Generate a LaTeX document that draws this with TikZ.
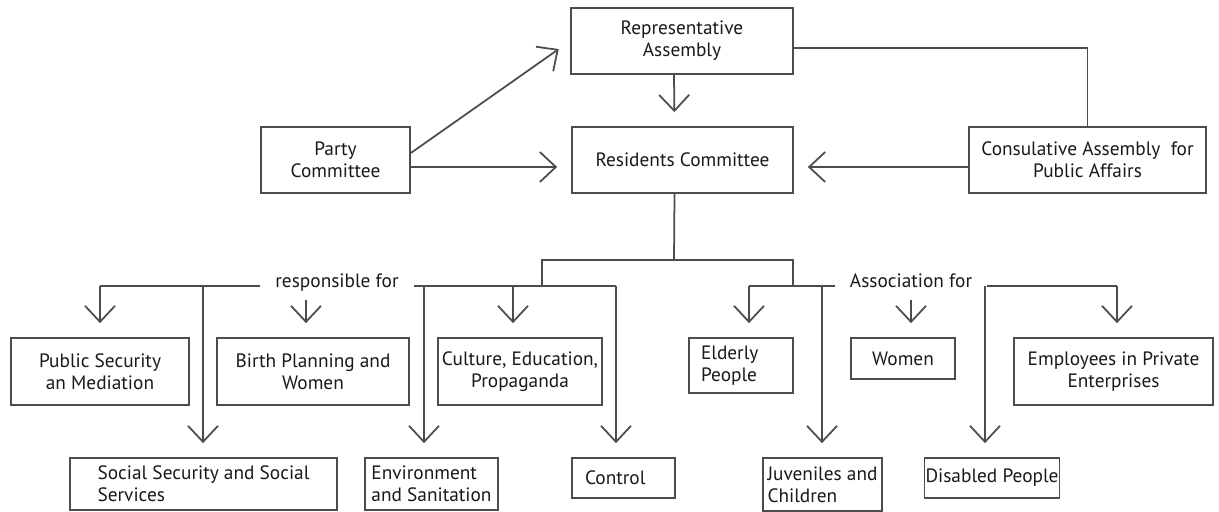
\documentclass[tikz,border=0pt]{standalone}
\usepackage{fontspec}
\setmainfont{PT Sans}
\usetikzlibrary{arrows.meta,positioning}

\tikzset{
  box/.style={draw=black!70, line width=1pt, align=center, inner sep=2pt,
    font=\fontsize{11}{12.5}\selectfont, text=black!90},
  lbox/.style={box, align=left},
  link/.style={draw=black!70, line width=1pt},
  arr/.style={link, shorten >=0.28cm, -{Straight Barb[length=0.32cm, width=0.6cm]}},
  tag/.style={font=\fontsize{11}{12.5}\selectfont, text=black!90, inner xsep=0.3cm},
}

\begin{document}
\begin{tikzpicture}[x=0.02cm, y=-0.02cm]

\useasboundingbox (0,0) rectangle (1219,511);

% top part
\node[box, minimum width=4.44cm, minimum height=1.32cm] (rep) at (682,41) {Representative\\Assembly};
\node[box, minimum width=4.42cm, minimum height=1.32cm] (res) at (682.5,160) {Residents Committee};
\node[box, minimum width=2.98cm, minimum height=1.32cm] (party) at (335.5,160) {Party\\Committee};
\node[box, minimum width=4.74cm, minimum height=1.32cm] (cons) at (1087.5,160) {Consulative Assembly\ \ for\\Public Affairs};

% first row
\node[box, minimum width=3.56cm, minimum height=1.34cm] (pubsec) at (100,371.5) {Public Security\\an Mediation};
\node[box, minimum width=3.84cm, minimum height=1.34cm] (birth) at (313,371.5) {Birth Planning and\\Women};
\node[box, minimum width=3.28cm, minimum height=1.34cm] (culture) at (520,371.5) {Culture, Education,\\Propaganda};
\node[lbox, text width=1.6cm, inner xsep=0.24cm, minimum height=1.1cm] (elderly) at (741,365.5) {Elderly\\People};
\node[box, minimum width=2.08cm, minimum height=0.82cm] (women) at (903,358.5) {Women};
\node[box, minimum width=3.98cm, minimum height=1.34cm] (employ) at (1113.5,371.5) {Employees in Private\\Enterprises};

% second row
\node[lbox, minimum width=5.34cm, minimum height=1.04cm] (socsec) at (203.5,484) {Social Security and Social\\Services};
\node[lbox, minimum width=2.66cm, minimum height=1.04cm, inner xsep=0.02cm] (env) at (431.5,484) {Environment\\and Sanitation};
\node[lbox, text width=1.54cm, inner xsep=0.26cm, minimum height=0.8cm] (control) at (623.5,478) {Control};
\node[lbox, minimum width=2.38cm, minimum height=1.06cm, inner xsep=0.02cm] (juven) at (822.5,484.5) {Juveniles and\\Children};
\node[lbox, minimum width=2.68cm, minimum height=0.8cm, inner xsep=0.02cm] (disab) at (992,478) {Disabled People};

\node[tag] (resp) at (337,283) {responsible for};
\node[tag] (assoc) at (911,281) {Association for};

% connectors at the top
\draw[arr] ([yshift=0.14cm]party.east) -- (rep.west);
\draw[arr] ([yshift=-0.14cm]party.east) -- ([yshift=-0.14cm]res.west);
\draw[arr] ([xshift=-0.16cm]rep.south) -- ([xshift=-0.16cm]res.north);
\draw[arr] ([yshift=-0.14cm]cons.west) -- ([yshift=-0.14cm]res.east);
\draw[link] ([yshift=-0.14cm]rep.east) -| (cons.north);

% the fork
\coordinate (fork) at (674,260);
\coordinate (rj) at (542,286);
\coordinate (aj) at (793,286);
\draw[link] ([xshift=-0.16cm]res.south) -- (fork);
\draw[link] (rj) |- (fork) -| (aj);

% responsible for
\coordinate (r1) at (100,286);
\coordinate (r2) at (203,286);
\coordinate (r3) at (306,300);
\coordinate (r4) at (424,286);
\coordinate (r5) at (513,286);
\coordinate (r6) at (616,286);
\draw[link] (r1) -- (r1 -| resp.west);
\draw[link] (resp.east |- r6) -- (r6);
\draw[arr] (r1) -- (r1 |- pubsec.north);
\draw[arr] (r2) -- (r2 |- socsec.north);
\draw[arr] (r3) -- (r3 |- birth.north);
\draw[arr] (r4) -- (r4 |- env.north);
\draw[arr] (r5) -- (r5 |- culture.north);
\draw[arr] (r6) -- (r6 |- control.north);

% association for
\coordinate (a1) at (749,286);
\coordinate (a2) at (822,286);
\coordinate (a3) at (911,300);
\coordinate (a4) at (985,286);
\coordinate (a5) at (1117,286);
\draw[link] (a1) -- (a1 -| assoc.west);
\draw[link] (assoc.east |- a5) -- (a5);
\draw[arr] (a1) -- (a1 |- elderly.north);
\draw[arr] (a2) -- (a2 |- juven.north);
\draw[arr] (a3) -- (a3 |- women.north);
\draw[arr] (a4) -- (a4 |- disab.north);
\draw[arr] (a5) -- (a5 |- employ.north);

\end{tikzpicture}
\end{document}
